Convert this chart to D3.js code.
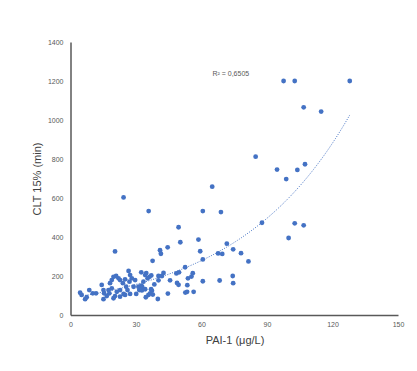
<!DOCTYPE html>
<html>
<head>
<meta charset="utf-8">
<script src="https://cdn.jsdelivr.net/npm/d3@7"></script>
<style>
  body { margin: 0; background: #fff; }
  svg { display: block; font-family: "Liberation Sans", Arial, sans-serif; }
</style>
</head>
<body>
<script>
// valores: PAI-1 (x) y CLT 15% (y)
var pai1 = [97.6, 102.7, 127.9, 106.8, 114.8, 84.8, 94.6, 103.9, 107.4, 98.8,
            64.9, 24.3, 35.8, 60.6, 68.9, 87.7, 102.7, 106.8, 49.5, 99.9,
            50.3, 58.6, 71.6, 74.5, 59.4, 67.6, 69.5, 78.1, 81.5, 41.0,
            41.4, 44.5, 37.6, 60.6, 20.4, 52.5, 74.3, 74.5, 68.3, 60.6,
            55.4, 56.0, 53.8, 53.5, 52.6, 53.4, 56.4, 49.5, 48.8, 48.5,
            49.7, 45.6, 44.6, 42.6, 41.9, 40.3, 40.3, 38.4, 37.0, 36.2,
            34.7, 32.4, 35.3, 33.4, 32.8, 36.9, 37.3, 36.5, 37.7, 35.7,
            34.5, 40.0, 32.7, 32.4, 30.1, 31.5, 28.9, 28.1, 27.3, 27.3,
            34.2, 34.2, 29.6, 31.1, 26.6, 25.0, 27.0, 25.5, 26.1, 25.0,
            24.3, 22.7, 22.7, 21.2, 20.4, 19.7, 24.0, 22.7, 22.0, 20.9,
            19.7, 18.9, 18.1, 18.9, 17.4, 17.8, 16.6, 15.1, 15.4, 15.1,
            14.3, 11.7, 10.2, 8.6, 7.4, 6.7, 5.1, 4.4];
var clt = [1200, 1200, 1200, 1065, 1043, 812, 746, 744, 773, 697,
           658, 603, 533, 533, 528, 473, 470, 460, 450, 395,
           373, 387, 366, 337, 327, 316, 313, 317, 275, 332,
           314, 347, 278, 285, 326, 245, 200, 163, 177, 173,
           197, 214, 188, 153, 115, 119, 119, 155, 164, 213,
           219, 178, 110, 216, 200, 200, 178, 157, 203, 196,
           215, 219, 188, 171, 145, 132, 125, 111, 105, 103,
           91, 82, 126, 150, 108, 128, 145, 188, 205, 108,
           132, 205, 179, 145, 226, 183, 171, 145, 128, 103,
           108, 128, 94, 119, 97, 86, 163, 179, 188, 200,
           196, 179, 163, 137, 128, 111, 97, 81, 111, 128,
           154, 111, 111, 128, 91, 81, 103, 114];
var xTicks = [0, 30, 60, 90, 120, 150];
var yTicks = [0, 200, 400, 600, 800, 1000, 1200, 1400];
var r2Label = "R² = 0,6505";

var W = 417, H = 371;
var margin = { top: 42, right: 19, bottom: 56, left: 70.5 };

var svg = d3.select("body").append("svg")
    .attr("width", W)
    .attr("height", H);

var xScale = d3.scaleLinear()
    .domain([0, 150])
    .range([margin.left, W - margin.right]);

var yScale = d3.scaleLinear()
    .domain([0, 1400])
    .range([H - margin.bottom, margin.top]);

// ejes sin marcas, solo linea y etiquetas
var xAxis = d3.axisBottom(xScale).tickValues(xTicks).tickSize(0).tickPadding(7)
    .tickFormat(d3.format("d"));
var yAxis = d3.axisLeft(yScale).tickValues(yTicks).tickSize(0).tickPadding(7)
    .tickFormat(d3.format("d"));

var gx = svg.append("g")
    .attr("transform", "translate(0," + yScale(0) + ")")
    .call(xAxis);
var gy = svg.append("g")
    .attr("transform", "translate(" + xScale(0) + ",0)")
    .call(yAxis);

[gx, gy].forEach(function(g){
  g.select(".domain").attr("stroke", "#595959").attr("stroke-width", 1.5);
  g.selectAll("text")
    .attr("fill", "#595959")
    .attr("font-size", "7px")
    .attr("font-family", "Liberation Sans, Arial, sans-serif");
});

// linea de tendencia exponencial (ajuste por minimos cuadrados en log)
var n = pai1.length;
var mx = d3.mean(pai1), ml = d3.mean(clt, function(d){ return Math.log(d); });
var sxy = 0, sxx = 0;
for (var i = 0; i < n; i++) {
  sxy += (pai1[i] - mx) * (Math.log(clt[i]) - ml);
  sxx += (pai1[i] - mx) * (pai1[i] - mx);
}
var b = sxy / sxx, a = Math.exp(ml - b * mx);
var xs = d3.range(d3.min(pai1), d3.max(pai1) + 0.01, 1);
xs.push(d3.max(pai1));

svg.append("path")
    .datum(xs)
    .attr("fill", "none")
    .attr("stroke", "#4472C4")
    .attr("stroke-width", 1)
    .attr("stroke-dasharray", "1,1.5")
    .attr("d", d3.line()
        .x(function(d){ return xScale(d); })
        .y(function(d){ return yScale(a * Math.exp(b * d)); }));

// puntos
svg.append("g").selectAll("circle")
    .data(d3.range(n))
    .enter()
    .append("circle")
    .attr("cx", function(i){ return xScale(pai1[i]); })
    .attr("cy", function(i){ return yScale(clt[i]); })
    .attr("r", 2.4)
    .attr("fill", "#4472C4");

// R2
svg.append("text")
    .attr("x", xScale(65))
    .attr("y", yScale(1236) + 2.5)
    .attr("fill", "#595959")
    .attr("font-size", "7px")
    .text(r2Label);

// titulos de los ejes
svg.append("text")
    .attr("transform", "translate(41," + 179 + ") rotate(-90)")
    .attr("text-anchor", "middle")
    .attr("fill", "#404040")
    .attr("font-size", "11px")
    .text("CLT 15% (min)");

svg.append("text")
    .attr("x", 235)
    .attr("y", 344)
    .attr("text-anchor", "middle")
    .attr("fill", "#404040")
    .attr("font-size", "11px")
    .text("PAI-1 (μg/L)");
</script>
</body>
</html>
